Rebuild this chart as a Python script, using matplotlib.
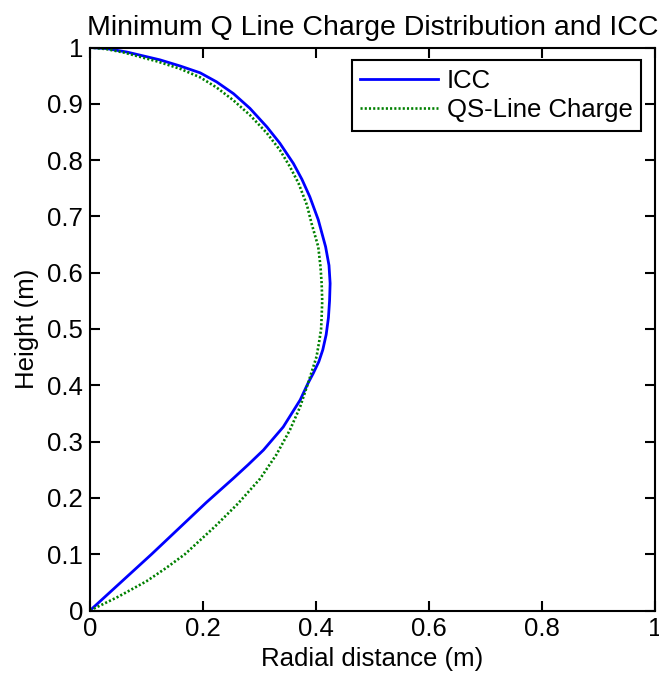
import matplotlib
matplotlib.use("Agg")
import matplotlib.pyplot as plt

plt.rcParams['font.family'] = ['Liberation Sans', 'DejaVu Sans']

# ICC curve (radial distance, height)
icc_x = [0, 0.109, 0.206, 0.254, 0.280, 0.307, 0.342, 0.372, 0.386, 0.395, 0.405,
         0.412, 0.418, 0.422, 0.424, 0.425, 0.423, 0.417, 0.404, 0.389, 0.375,
         0.360, 0.336, 0.313, 0.283, 0.254, 0.224, 0.195, 0.160, 0.124, 0.065,
         0.03, 0]
icc_y = [0, 0.100, 0.192, 0.235, 0.259, 0.285, 0.326, 0.374, 0.404, 0.421, 0.442,
         0.463, 0.490, 0.520, 0.550, 0.581, 0.613, 0.646, 0.694, 0.735, 0.766,
         0.794, 0.830, 0.859, 0.892, 0.918, 0.939, 0.955, 0.967, 0.978, 0.992,
         0.998, 1.0]

# QS-Line Charge curve
qs_x = [0, 0.05, 0.10, 0.134, 0.168, 0.221, 0.262, 0.301, 0.330, 0.354, 0.372,
        0.386, 0.401, 0.406, 0.409, 0.410, 0.411, 0.410, 0.408, 0.404, 0.392,
        0.384, 0.369, 0.354, 0.336, 0.313, 0.283, 0.254, 0.224, 0.195, 0.160,
        0.12, 0.06, 0.03, 0]
qs_y = [0, 0.0245, 0.052, 0.075, 0.100, 0.149, 0.190, 0.234, 0.277, 0.321, 0.362,
        0.404, 0.451, 0.480, 0.500, 0.522, 0.550, 0.581, 0.610, 0.646, 0.688,
        0.720, 0.759, 0.788, 0.818, 0.848, 0.880, 0.906, 0.929, 0.947, 0.962,
        0.975, 0.991, 0.997, 1.0]

x_ticks = [0, 0.2, 0.4, 0.6, 0.8, 1]
x_ticklabels = ['0', '0.2', '0.4', '0.6', '0.8', '1']
y_ticks = [0, 0.1, 0.2, 0.3, 0.4, 0.5, 0.6, 0.7, 0.8, 0.9, 1]
y_ticklabels = ['0', '0.1', '0.2', '0.3', '0.4', '0.5', '0.6', '0.7', '0.8', '0.9', '1']

W, H = 659, 683
fig = plt.figure(figsize=(W / 100, H / 100), dpi=100)
ax = fig.add_axes([90 / W, (H - 610.5) / H, 565 / W, 563 / H])

ax.plot(icc_x, icc_y, color=(0, 0, 1), lw=2.0, label='ICC',
        solid_joinstyle='round')
ax.plot(qs_x, qs_y, color=(0, 0.5, 0), lw=1.9, ls=(0, (0.8, 0.8)),
        label='QS-Line Charge')

ax.set_xlim(0, 1)
ax.set_ylim(0, 1)
ax.set_xticks(x_ticks)
ax.set_xticklabels(x_ticklabels)
ax.set_yticks(y_ticks)
ax.set_yticklabels(y_ticklabels)

fs = 18.5
ax.tick_params(direction='in', top=True, right=True, length=7.5, width=1.5,
               labelsize=fs, pad=5)
for s in ax.spines.values():
    s.set_linewidth(1.5)

ax.set_xlabel('Radial distance (m)', fontsize=fs, labelpad=4)
ax.set_ylabel('Height (m)', fontsize=fs, labelpad=6)
ax.set_title('Minimum Q Line Charge Distribution and ICC', fontsize=20.5, pad=9)

leg = ax.legend(loc='upper right', bbox_to_anchor=(0.976, 0.978), borderaxespad=0,
                fancybox=False, edgecolor='black', fontsize=fs, handlelength=3.0,
                handletextpad=0.35, labelspacing=0.2, borderpad=0.35, framealpha=1)
leg.get_frame().set_linewidth(1.5)

fig.savefig('out.png', dpi=100)
